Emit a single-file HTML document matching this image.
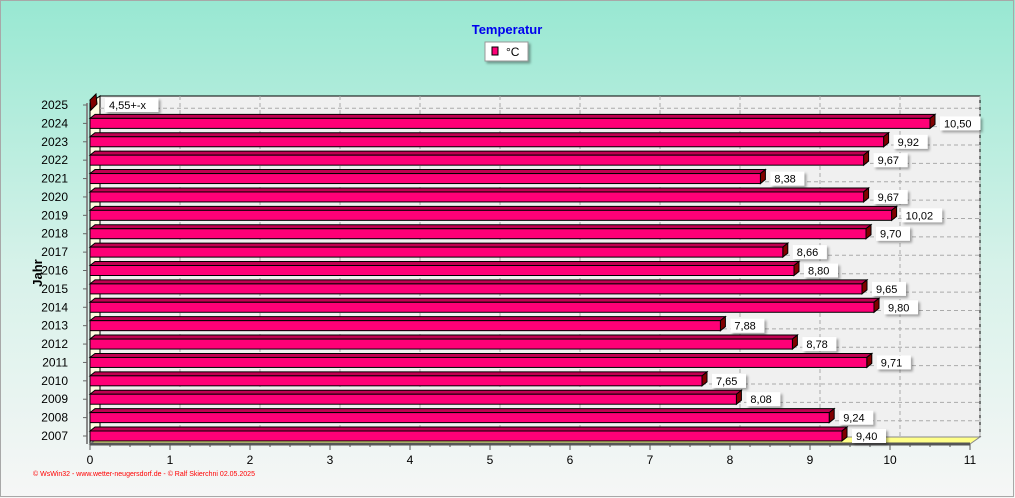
<!DOCTYPE html>
<html><head><meta charset="utf-8"><style>
html,body{margin:0;padding:0;width:1015px;height:498px;overflow:hidden}
svg{display:block;font-family:"Liberation Sans",sans-serif}
</style></head><body>
<svg id="chart" width="1015" height="498" viewBox="0 0 1015 498">
<defs>
<linearGradient id="bg" x1="0" y1="0" x2="0" y2="1">
<stop offset="0" stop-color="#98e8d2"/><stop offset="0.55" stop-color="#d8f2ea"/><stop offset="1" stop-color="#f6f6f6"/>
</linearGradient>
<filter id="sh" x="-20%" y="-20%" width="150%" height="160%"><feDropShadow dx="2" dy="2" stdDeviation="1.2" flood-color="#000" flood-opacity="0.35"/></filter>
</defs>
<rect x="0" y="0" width="1015" height="498" fill="url(#bg)"/>
<rect x="0.5" y="0.5" width="1013" height="496" fill="none" stroke="#a8a8a8"/>
<text x="507" y="34" text-anchor="middle" font-size="13" font-weight="bold" fill="#0000ee">Temperatur</text>
<g>
<rect x="485" y="42" width="43" height="19" fill="#fff" stroke="#999" filter="url(#sh)"/>
<rect x="492" y="47" width="6" height="8" fill="#ff0077" stroke="#000"/>
<text x="506" y="56" font-size="12" fill="#000">°C</text>
</g>
<text transform="translate(42,273) rotate(-90)" text-anchor="middle" font-size="13" font-weight="bold" fill="#000">Jahr</text>
<g id="plot"></g>
<text x="33" y="476" font-size="7" fill="#ff0000">© WsWin32 - www.wetter-neugersdorf.de - © Ralf Skierchni  02.05.2025</text>
</svg>
<script>
const categories = ["2025","2024","2023","2022","2021","2020","2019","2018","2017","2016","2015","2014","2013","2012","2011","2010","2009","2008","2007"];
const values = [null,10.50,9.92,9.67,8.38,9.67,10.02,9.70,8.66,8.80,9.65,9.80,7.88,8.78,9.71,7.65,8.08,9.24,9.40];
const valueLabels = ["4,55+-x","10,50","9,92","9,67","8,38","9,67","10,02","9,70","8,66","8,80","9,65","9,80","7,88","8,78","9,71","7,65","8,08","9,24","9,40"];
const xTicks = [0,1,2,3,4,5,6,7,8,9,10,11];

const NS="http://www.w3.org/2000/svg";
const g=document.getElementById('plot');
const X0=90, XU=80, DX=10, DY=-7;
const xs=v=>X0+v*XU;
const rowY0=105, rowStep=(436-105)/(categories.length-1);
const ys=i=>rowY0+i*rowStep;
const plotTop=ys(0)-9, plotBot=ys(categories.length-1)+8;
function mk(tag,attrs,parent){const e=document.createElementNS(NS,tag);for(const k in attrs)e.setAttribute(k,attrs[k]);(parent||g).appendChild(e);return e;}

let e=mk('rect',{x:X0+DX,y:plotTop,width:xs(11)-X0,height:plotBot-plotTop+DY,fill:'#f0f0f0',stroke:'#000'});


e=mk('polygon',{points:`${X0},${plotTop-DY} ${X0+DX},${plotTop} ${X0+DX},${plotBot+DY} ${X0},${plotBot}`,fill:'#fffce0',stroke:'#000'});


e=mk('polygon',{points:`${X0},${plotBot} ${X0+DX},${plotBot+DY} ${xs(11)+DX},${plotBot+DY} ${xs(11)},${plotBot}`,fill:'#ffff88',stroke:'#888'});


xTicks.forEach(t=>{
  if(t===0)return;
  const l=mk('line',{x1:xs(t)+DX,y1:plotTop,x2:xs(t)+DX,y2:plotBot+DY,stroke:'#aaa','stroke-dasharray':'4,3'});
  
  
});
categories.forEach((c,i)=>{
  const y=ys(i)+rowStep/2+DY+1;
  if(i<categories.length-1){
    const l=mk('line',{x1:X0+DX,y1:y,x2:xs(11)+DX,y2:y,stroke:'#aaa','stroke-dasharray':'4,3'});
    
    
  }
});
e=mk('line',{x1:X0,y1:plotBot,x2:xs(11),y2:plotBot,stroke:'#555','stroke-width':3});


e=mk('line',{x1:X0-3,y1:plotTop-DY,x2:X0-3,y2:plotBot,stroke:'#888','stroke-width':2});


xTicks.forEach(t=>{
  const l=mk('line',{x1:xs(t),y1:plotBot,x2:xs(t),y2:plotBot+6,stroke:'#555'});
  
  
  if(t<11){for(let k=1;k<4;k++){const m=mk('line',{x1:xs(t+k/4),y1:plotBot,x2:xs(t+k/4),y2:plotBot+3,stroke:'#555'});
    
    }}
  const tx=mk('text',{x:xs(t),y:plotBot+20,'text-anchor':'middle','font-size':12,fill:'#000'});
  tx.textContent=t;
  
  
});
categories.forEach((c,i)=>{
  const yc=ys(i);
  const tl=mk('text',{x:X0-22,y:yc+4,'text-anchor':'end','font-size':12,fill:'#000'});
  tl.textContent=c;
  
  
  const tk=mk('line',{x1:X0-7,y1:yc,x2:X0-3,y2:yc,stroke:'#666'});
  
  
  const v=values[i];
  const h=10, y0=yc-h/2;
  const bg=mk('g',{});
  
  
  let xe;
  if(v===null){
    xe=X0+1;
    mk('polygon',{points:`${X0},${y0} ${X0+6},${y0-6} ${X0+7},${y0+4} ${X0+1},${y0+h}`,fill:'#800000',stroke:'#000'},bg);
  } else {
    xe=xs(v);
    mk('polygon',{points:`${X0},${y0} ${X0+5},${y0-4} ${xe+5},${y0-4} ${xe},${y0}`,fill:'#c00050',stroke:'#000'},bg);
    mk('polygon',{points:`${xe},${y0} ${xe+5},${y0-4} ${xe+5},${y0+h-4} ${xe},${y0+h}`,fill:'#800000',stroke:'#000'},bg);
    mk('rect',{x:X0,y:y0,width:xe-X0,height:h,fill:'#ff0077',stroke:'#000'},bg);
  }
  const lw=valueLabels[i].length*6.5+8;
  const lx=xe+(v===null?14:10);
  const lb=mk('rect',{x:lx,y:yc-7,width:lw,height:14,fill:'#fff',filter:'url(#sh)'});
  
  
  const lt=mk('text',{x:lx+4,y:yc+4,'font-size':11,fill:'#000'});
  lt.textContent=valueLabels[i];
  
  
});
</script>
</body></html>
